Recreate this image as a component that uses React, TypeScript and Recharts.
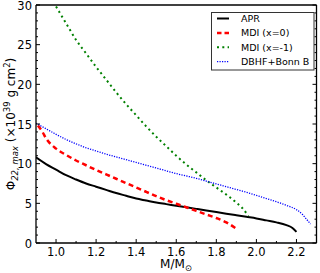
import { LineChart, Line, XAxis, YAxis, Legend } from "recharts";

const FONT = "DejaVu Sans";

// APR
const aprMass = [0.9, 0.95, 1.0, 1.05, 1.1, 1.15, 1.2, 1.25, 1.3, 1.35, 1.4, 1.45, 1.5, 1.55, 1.6, 1.65, 1.7, 1.75, 1.8, 1.85, 1.9, 1.95, 2.0, 2.05, 2.1, 2.15, 2.18, 2.2];
const aprPhi = [10.8, 9.95, 9.25, 8.55, 8.0, 7.5, 7.1, 6.7, 6.3, 5.95, 5.6, 5.35, 5.1, 4.9, 4.7, 4.5, 4.3, 4.1, 3.9, 3.7, 3.5, 3.3, 3.1, 2.85, 2.6, 2.25, 1.9, 1.4];

// MDI (x=0)
const mdi0Mass = [0.91, 0.93, 0.95, 1.0, 1.05, 1.1, 1.15, 1.2, 1.25, 1.3, 1.35, 1.4, 1.45, 1.5, 1.55, 1.6, 1.65, 1.7, 1.75, 1.8, 1.85, 1.9];
const mdi0Phi = [14.8, 14.1, 13.2, 11.9, 11.1, 10.4, 9.8, 9.2, 8.65, 8.1, 7.55, 7.0, 6.45, 5.9, 5.4, 4.95, 4.5, 4.05, 3.6, 3.15, 2.6, 1.8];

// MDI (x=-1)
const mdi1Mass = [1.0, 1.05, 1.1, 1.15, 1.2, 1.25, 1.3, 1.35, 1.4, 1.45, 1.5, 1.55, 1.6, 1.65, 1.7, 1.75, 1.8, 1.85, 1.9, 1.93, 1.96];
const mdi1Phi = [29.8, 27.7, 25.6, 23.9, 22.2, 20.6, 19.0, 17.5, 16.1, 14.7, 13.4, 12.2, 11.0, 9.9, 8.9, 7.9, 7.0, 6.1, 5.1, 4.4, 3.4];

// DBHF+Bonn B
const dbhfMass = [0.9, 0.95, 1.0, 1.05, 1.1, 1.15, 1.2, 1.25, 1.3, 1.35, 1.4, 1.45, 1.5, 1.55, 1.6, 1.65, 1.7, 1.75, 1.8, 1.85, 1.9, 1.95, 2.0, 2.05, 2.1, 2.15, 2.2, 2.23, 2.25, 2.27];
const dbhfPhi = [15.1, 14.4, 13.7, 13.05, 12.5, 12.0, 11.6, 11.2, 10.85, 10.5, 10.15, 9.8, 9.45, 9.1, 8.75, 8.45, 8.15, 7.8, 7.45, 7.1, 6.75, 6.4, 6.0, 5.6, 5.2, 4.75, 4.2, 3.6, 3.0, 2.4];

const xTicks = [1.0, 1.1, 1.2, 1.3, 1.4, 1.5, 1.6, 1.7, 1.8, 1.9, 2.0, 2.1, 2.2];
const yTicks = [0, 1, 2, 3, 4, 5, 6, 7, 8, 9, 10, 11, 12, 13, 14, 15, 16, 17, 18, 19, 20, 21, 22, 23, 24, 25, 26, 27, 28, 29, 30];

const series = [
  { name: "APR", mass: aprMass, phi: aprPhi, color: "#000000", width: 2, dash: undefined },
  { name: "MDI (x=0)", mass: mdi0Mass, phi: mdi0Phi, color: "#ff0000", width: 2.5, dash: "5 3.5" },
  { name: "MDI (x=-1)", mass: mdi1Mass, phi: mdi1Phi, color: "#008000", width: 2, dash: "2 3.3" },
  { name: "DBHF+Bonn B", mass: dbhfMass, phi: dbhfPhi, color: "#0000ff", width: 1.3, dash: "1.2 1.3" },
];

const toData = (mass: number[], phi: number[]) => mass.map((m, i) => ({ m, phi: phi[i] }));

const isMajorX = (v: number) => Math.round(v * 10) % 2 === 0;
const isMajorY = (v: number) => v % 5 === 0;

const BottomTick = ({ x, y, payload }: any) => {
  const major = isMajorX(payload.value);
  return (
    <g>
      <line x1={x} x2={x} y1={y} y2={y - (major ? 4 : 2)} stroke="#000" strokeWidth={1} />
      {major && (
        <text x={x} y={y + 12.5} textAnchor="middle" fontSize={11.5} fontFamily={FONT} fill="#000">
          {payload.value.toFixed(1)}
        </text>
      )}
    </g>
  );
};

const TopTick = ({ x, y, payload }: any) => (
  <line x1={x} x2={x} y1={y} y2={y + (isMajorX(payload.value) ? 4 : 2)} stroke="#000" strokeWidth={1} />
);

const LeftTick = ({ x, y, payload }: any) => {
  const major = isMajorY(payload.value);
  return (
    <g>
      <line x1={x} x2={x + (major ? 4 : 2)} y1={y} y2={y} stroke="#000" strokeWidth={1} />
      {major && (
        <text x={x - 4} y={y} dy="0.4em" textAnchor="end" fontSize={11.5} fontFamily={FONT} fill="#000">
          {payload.value}
        </text>
      )}
    </g>
  );
};

const RightTick = ({ x, y, payload }: any) => (
  <line x1={x} x2={x - (isMajorY(payload.value) ? 4 : 2)} y1={y} y2={y} stroke="#000" strokeWidth={1} />
);

const YLabel = () => (
  <text transform="translate(15,124) rotate(-90)" textAnchor="middle" fontSize={12} fontFamily={FONT} fill="#000">
    <tspan>Φ</tspan>
    <tspan fontSize={8.5} dy={3} fontStyle="italic">22, max</tspan>
    <tspan dy={-3}> (×10</tspan>
    <tspan fontSize={8.5} dy={-5}>39</tspan>
    <tspan dy={5}> g cm</tspan>
    <tspan fontSize={8.5} dy={-5}>2</tspan>
    <tspan dy={5}>)</tspan>
  </text>
);

const XLabel = () => (
  <text x={176} y={268} textAnchor="middle" fontSize={12} fontFamily={FONT} fill="#000">
    <tspan>M/M</tspan>
    <tspan fontSize={8.5} dy={3}>⊙</tspan>
  </text>
);

const LegendBox = () => (
  <svg width={104} height={59} style={{ display: "block" }}>
    <rect x={0.5} y={0.5} width={102.5} height={57.5} fill="#fff" stroke="#333" strokeWidth={1} />
    {series.map((s, i) => {
      const y = 6.5 + i * 14.4;
      return (
        <g key={s.name}>
          <line x1={6} x2={18} y1={y} y2={y} stroke={s.color} strokeWidth={s.width} strokeDasharray={s.name === "MDI (x=0)" ? "4.5 3" : s.dash} />
          <text x={30} y={y + 3.4} fontSize={9.5} fontFamily={FONT} fill="#000">{s.name}</text>
        </g>
      );
    })}
  </svg>
);

export default function App() {
  return (
    <div style={{ position: "absolute", left: 0, top: 0, width: 320, height: 273, background: "#fff" }}>
      <LineChart width={320} height={273} margin={{ top: 4, right: 2.5, bottom: 0, left: 0 }}>
        <XAxis
          dataKey="m"
          type="number"
          domain={[0.9, 2.3]}
          allowDataOverflow
          ticks={xTicks}
          interval={0}
          tickSize={0}
          tickMargin={0}
          tick={<BottomTick />}
          height={30}
          axisLine={{ stroke: "#000", strokeWidth: 1.3 }}
          label={<XLabel />}
        />
        <XAxis
          xAxisId="top"
          orientation="top"
          type="number"
          domain={[0.9, 2.3]}
          allowDataOverflow
          ticks={xTicks}
          interval={0}
          tickSize={0}
          tickMargin={0}
          tick={<TopTick />}
          height={1}
          axisLine={{ stroke: "#000", strokeWidth: 1.3 }}
        />
        <YAxis
          type="number"
          domain={[0, 30]}
          allowDataOverflow
          ticks={yTicks}
          interval={0}
          tickSize={0}
          tickMargin={0}
          tick={<LeftTick />}
          width={36}
          axisLine={{ stroke: "#000", strokeWidth: 1.3 }}
          label={<YLabel />}
        />
        <YAxis
          yAxisId="right"
          orientation="right"
          type="number"
          domain={[0, 30]}
          allowDataOverflow
          ticks={yTicks}
          interval={0}
          tickSize={0}
          tickMargin={0}
          tick={<RightTick />}
          width={1}
          axisLine={{ stroke: "#000", strokeWidth: 1.3 }}
        />
        {series.map((s) => (
          <Line
            key={s.name}
            data={toData(s.mass, s.phi)}
            dataKey="phi"
            name={s.name}
            type="monotone"
            stroke={s.color}
            strokeWidth={s.width}
            strokeDasharray={s.dash}
            dot={false}
            activeDot={false}
            isAnimationActive={false}
          />
        ))}
        <Legend
          layout="horizontal"
          verticalAlign="middle"
          align="center"
          content={<LegendBox />}
          wrapperStyle={{ position: "absolute", left: 211, top: 12, width: 104, height: 59 }}
        />
      </LineChart>
    </div>
  );
}
